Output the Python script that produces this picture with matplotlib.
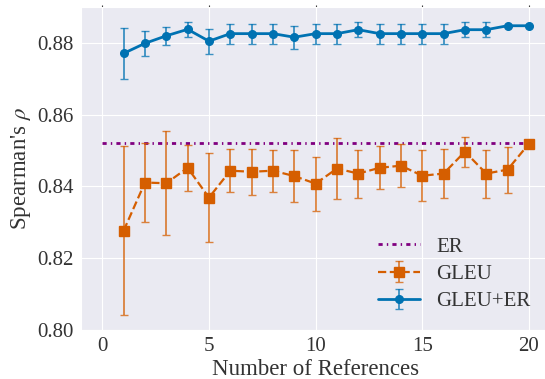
import matplotlib
matplotlib.use("Agg")
import matplotlib.pyplot as plt
import seaborn as sns

# number of references
refs = list(range(1, 21))

gleu_er = [0.8771, 0.8799, 0.8820, 0.8838, 0.8805, 0.8826, 0.8826, 0.8826, 0.8816, 0.8826,
           0.8826, 0.8837, 0.8826, 0.8826, 0.8826, 0.8826, 0.8837, 0.8837, 0.8848, 0.8848]
gleu_er_err = [0.0071, 0.0034, 0.0025, 0.0021, 0.0035, 0.0028, 0.0028, 0.0028, 0.0032, 0.0028,
               0.0028, 0.0021, 0.0028, 0.0028, 0.0028, 0.0028, 0.0021, 0.0021, 0.0, 0.0]

gleu = [0.8277, 0.8411, 0.8409, 0.8452, 0.8369, 0.8444, 0.8441, 0.8444, 0.8429, 0.8408,
        0.8450, 0.8436, 0.8452, 0.8458, 0.8430, 0.8436, 0.8497, 0.8436, 0.8447, 0.8519]
gleu_err = [0.0235, 0.0109, 0.0145, 0.0065, 0.0125, 0.0060, 0.0064, 0.0059, 0.0072, 0.0075,
            0.0085, 0.0067, 0.0060, 0.0060, 0.0071, 0.0069, 0.0042, 0.0067, 0.0064, 0.0]

er_x = [0, 20]
er_y = [0.852, 0.852]

sns.set_style("darkgrid")
plt.rcParams['font.family'] = ['Liberation Serif', 'DejaVu Serif']
plt.rcParams['mathtext.fontset'] = 'stix'

fig = plt.figure(figsize=(5.45, 3.79), dpi=100)
ax = fig.add_axes([0.1486, 0.1293, 0.861, 0.852])

blue = "#0072B2"
orange = "#D55E00"
txt = "#333333"

ax.plot(er_x, er_y, color="#800080", linestyle=(0, (1.5, 1.5, 0.5, 1.5)), linewidth=2, label="ER")

eb1 = ax.errorbar(refs, gleu, yerr=gleu_err, fmt='s--', color=orange, markersize=7,
                  linewidth=1.6, capsize=3, elinewidth=1.3, label="GLEU")
eb2 = ax.errorbar(refs, gleu_er, yerr=gleu_er_err, fmt='o-', color=blue, markersize=5.5,
                  linewidth=2, capsize=3, elinewidth=1.3, label="GLEU+ER")
for eb in (eb1, eb2):
    for part in eb[1] + eb[2]:
        part.set_alpha(0.75)

ax.set_xlim(-1, 21)
ax.set_ylim(0.80, 0.89)
ax.set_xticks([0, 5, 10, 15, 20])
ax.set_yticks([0.80, 0.82, 0.84, 0.86, 0.88])
ax.tick_params(labelsize=15, colors=txt, length=1.5, top=True)
ax.set_xlabel("Number of References", fontsize=16.5, color=txt, labelpad=2)
ax.set_ylabel(r"Spearman's $\rho$", fontsize=16.5, color=txt, labelpad=3)

leg = ax.legend(loc="lower right", fontsize=15, frameon=False, labelspacing=0.37,
                bbox_to_anchor=(0.998, 0.0))
for t in leg.get_texts():
    t.set_color(txt)

fig.savefig("out.png", dpi=100)
